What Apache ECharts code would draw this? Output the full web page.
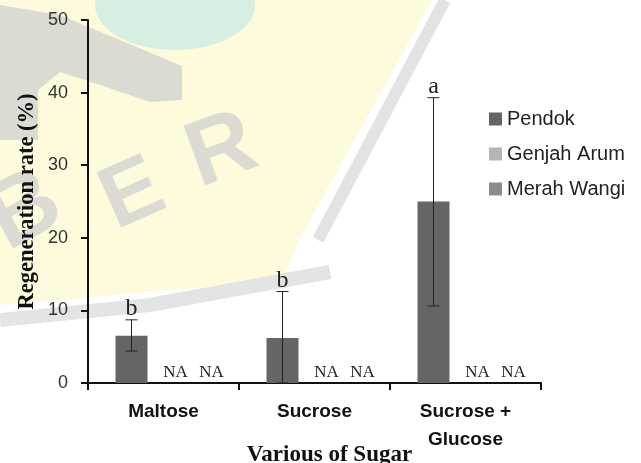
<!DOCTYPE html>
<html>
<head>
<meta charset="utf-8">
<script src="https://cdn.jsdelivr.net/npm/echarts@6/dist/echarts.min.js"></script>
<style>
html,body{margin:0;padding:0;background:#fff;}
#chart{width:641px;height:463px;}
</style>
</head>
<body>
<div id="chart"></div>
<script>
// ---- data ----
const categories = ['Maltose', 'Sucrose', 'Sucrose +\nGlucose'];
const seriesNames = ['Pendok', 'Genjah Arum', 'Merah Wangi'];
const pendok = [6.5, 6.2, 25.0];
const genjahArum = ['NA', 'NA', 'NA'];
const merahWangi = ['NA', 'NA', 'NA'];
const errLow = [4.4, 0, 10.6];
const errHigh = [8.7, 12.6, 39.3];
const letters = ['b', 'b', 'a'];
const yTicks = [0, 10, 20, 30, 40, 50];

// ---- style ----
const BAR_W = 32;
const colors = ['#656565', '#b5b5b5', '#8c8c8c'];
const SANS = '"Liberation Sans", Arial, sans-serif';
const SERIF = '"Liberation Serif", "Times New Roman", serif';
const WM = '#dbdbd3';

const chart = echarts.init(document.getElementById('chart'), null, {renderer: 'canvas'});

const naLabel = (off) => ({
  show: true, position: 'top', distance: 2, offset: [off, 0],
  formatter: 'NA', fontFamily: SERIF, fontSize: 17, color: '#222'
});

const option = {
  backgroundColor: '#ffffff',
  animation: false,
  graphic: {
    elements: [
      {type: 'polygon', z: -10, silent: true,
       shape: {points: [[0,0],[432,0],[300,238],[282,280],[150,292],[0,305]]},
       style: {fill: '#fdfbdc'}},
      {type: 'ellipse', z: -9, silent: true,
       shape: {cx: 175, cy: 5, rx: 80, ry: 45},
       style: {fill: '#d7eee2'}},
      {type: 'polygon', z: -9, silent: true, smooth: 0.2,
       shape: {points: [[0,5],[60,15],[120,40],[182,66],[182,100],[150,102],[100,85],[60,72],[38,90],[38,140],[0,140]]},
       style: {fill: WM}},
      {type: 'polyline', z: -9, silent: true,
       shape: {points: [[445,0],[318,240]]},
       style: {stroke: '#e3e3e3', lineWidth: 12, fill: null}},
      {type: 'polyline', z: -9, silent: true,
       shape: {points: [[0,320],[150,305],[330,272]]},
       style: {stroke: '#e4e4e4', lineWidth: 14, fill: null}},
      {type: 'text', z: -8, silent: true, x: 25, y: 212, rotation: 0.5,
       style: {text: 'B', fontFamily: SANS, fontWeight: 'bold', fontSize: 95,
               fill: WM, align: 'center', verticalAlign: 'middle'}},
      {type: 'text', z: -8, silent: true, x: 133, y: 196, rotation: 0.42,
       style: {text: 'E', fontFamily: SANS, fontWeight: 'bold', fontSize: 88,
               fill: WM, align: 'center', verticalAlign: 'middle'}},
      {type: 'text', z: -8, silent: true, x: 222, y: 152, rotation: 0.35,
       style: {text: 'R', fontFamily: SANS, fontWeight: 'bold', fontSize: 92,
               fill: WM, align: 'center', verticalAlign: 'middle'}}
    ]
  },
  grid: {left: 88, right: 100, top: 20, bottom: 80, containLabel: false,
         outerBoundsMode: 'none'},
  legend: {
    orient: 'vertical', left: 484, top: 103,
    itemWidth: 13, itemHeight: 13, itemGap: 13,
    icon: 'rect',
    data: seriesNames,
    textStyle: {fontFamily: SANS, fontSize: 20, color: '#222', lineHeight: 22}
  },
  xAxis: {
    type: 'category',
    data: categories,
    name: 'Various of Sugar',
    nameLocation: 'middle',
    nameGap: 61,
    nameMoveOverlap: false,
    nameTextStyle: {fontFamily: SERIF, fontWeight: 'bold', fontSize: 23, color: '#111',
                    padding: [0, 0, 0, 30]},
    axisLine: {lineStyle: {color: '#111', width: 2}},
    axisTick: {show: true, length: 7, lineStyle: {color: '#111', width: 2}},
    axisLabel: {fontFamily: SANS, fontWeight: 'bold', fontSize: 19, color: '#111',
                margin: 15, lineHeight: 28},
    splitLine: {show: false}
  },
  yAxis: {
    type: 'value',
    min: yTicks[0], max: yTicks[yTicks.length - 1], interval: 10,
    name: 'Regeneration rate (%)',
    nameLocation: 'middle',
    nameGap: 49,
    nameMoveOverlap: false,
    nameTextStyle: {fontFamily: SERIF, fontWeight: 'bold', fontSize: 22.5, color: '#111'},
    axisLine: {show: true, lineStyle: {color: '#111', width: 2}},
    axisTick: {show: true, length: 7, lineStyle: {color: '#111', width: 2}},
    axisLabel: {fontFamily: SANS, fontSize: 18, color: '#333', margin: 20},
    splitLine: {show: false}
  },
  series: [
    {name: seriesNames[0], type: 'bar', barWidth: BAR_W, barGap: '0%',
     itemStyle: {color: colors[0]}, data: pendok, z: 2},
    {name: seriesNames[1], type: 'bar', barWidth: BAR_W, barGap: '0%',
     itemStyle: {color: colors[1]}, data: genjahArum.map(() => 0),
     label: naLabel(12)},
    {name: seriesNames[2], type: 'bar', barWidth: BAR_W, barGap: '0%',
     itemStyle: {color: colors[2]}, data: merahWangi.map(() => 0),
     label: naLabel(16)},
    {type: 'custom', name: 'err', z: 5,
     data: errLow.map((lo, i) => [i, lo, errHigh[i]]),
     renderItem: function (params, api) {
       const i = api.value(0);
       const pLo = api.coord([i, api.value(1)]);
       const pHi = api.coord([i, api.value(2)]);
       const x = pLo[0] - BAR_W;
       const cap = 6;
       const st = {stroke: '#222', lineWidth: 1};
       return {type: 'group', children: [
         {type: 'line', shape: {x1: x, y1: pLo[1], x2: x, y2: pHi[1]}, style: st},
         {type: 'line', shape: {x1: x - cap, y1: pHi[1], x2: x + cap, y2: pHi[1]}, style: st},
         {type: 'line', shape: {x1: x - cap, y1: pLo[1], x2: x + cap, y2: pLo[1]}, style: st},
         {type: 'text', x: x, y: pHi[1] + 1,
          style: {text: letters[params.dataIndex], fontFamily: SERIF, fontSize: 24,
                  fill: '#222', align: 'center', verticalAlign: 'bottom'}}
       ]};
     }}
  ]
};
chart.setOption(option);
</script>
</body>
</html>
